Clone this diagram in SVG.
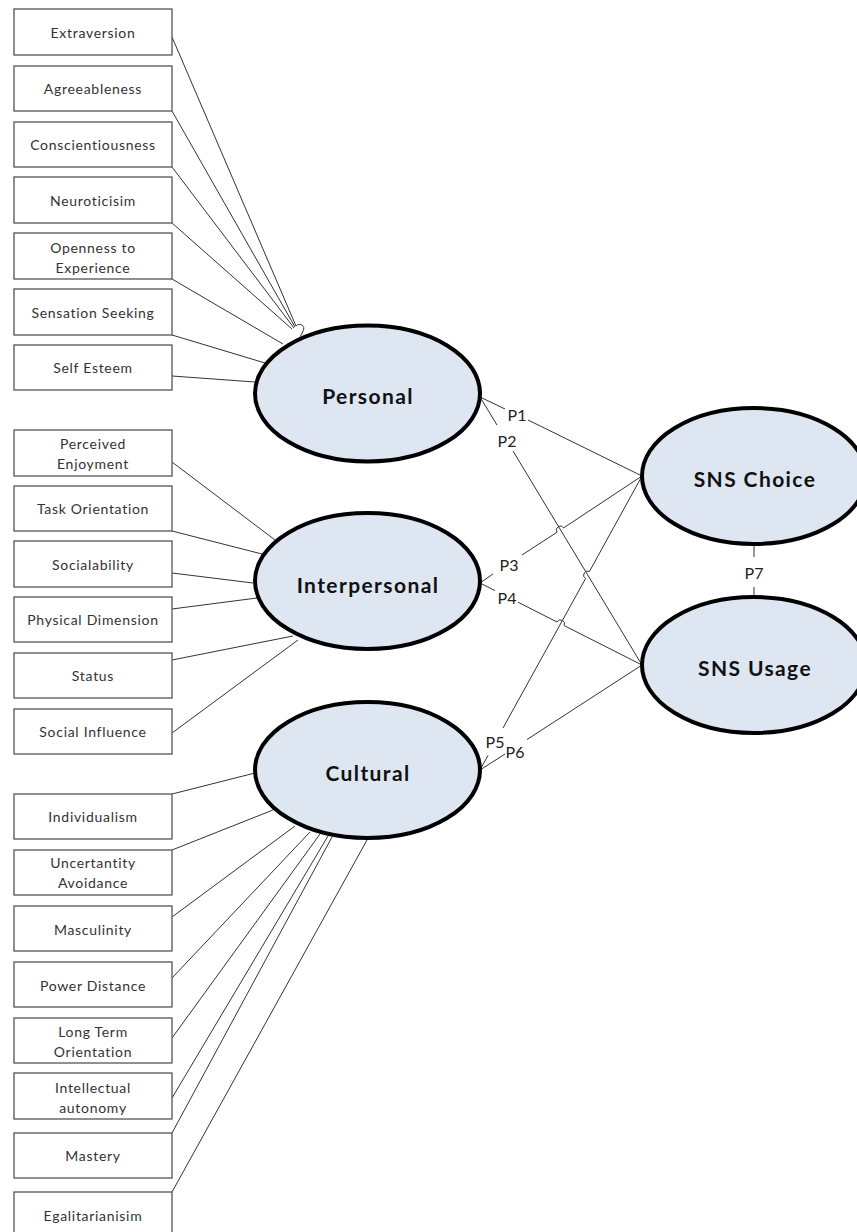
<svg xmlns="http://www.w3.org/2000/svg" width="857" height="1232" viewBox="0 0 857 1232">
<style>
.box{fill:#fff;stroke:#555;stroke-width:1.3}
.bt{font-family:Lato,"Liberation Sans",sans-serif;font-size:14px;letter-spacing:0.7px;fill:#333;text-anchor:middle;dominant-baseline:central}
.ell{fill:#dee6f2;stroke:#000;stroke-width:4}
.et{font-family:Lato,"Liberation Sans",sans-serif;font-size:21px;font-weight:bold;letter-spacing:1.4px;fill:#111;text-anchor:middle;dominant-baseline:central}
.ln{stroke:#333;stroke-width:1;fill:none}
.pl{font-family:Lato,"Liberation Sans",sans-serif;font-size:16px;fill:#222;text-anchor:middle;dominant-baseline:central}
</style>
<rect width="857" height="1232" fill="#fff"/>
<g id="connectors" class="ln">
<line x1="172" y1="37" x2="296" y2="326"/>
<line x1="172" y1="111" x2="295" y2="327"/>
<line x1="172" y1="167" x2="294" y2="328"/>
<line x1="172" y1="223" x2="292" y2="329"/>
<path d="M296 326 C300 322 306 326 303 331 C302 334 300 336 300 338"/>
<line x1="172" y1="279" x2="283" y2="344"/>
<line x1="172" y1="335" x2="265" y2="363"/>
<line x1="172" y1="376" x2="255" y2="382"/>
<line x1="172" y1="462" x2="275" y2="540"/>
<line x1="172" y1="531" x2="262" y2="554"/>
<line x1="172" y1="573" x2="253" y2="583"/>
<line x1="172" y1="609" x2="257" y2="598"/>
<line x1="172" y1="660" x2="293" y2="636"/>
<line x1="172" y1="733" x2="298" y2="640"/>
<line x1="172" y1="794" x2="255" y2="773"/>
<line x1="172" y1="850" x2="273" y2="810"/>
<line x1="172" y1="917" x2="295" y2="826"/>
<line x1="172" y1="978" x2="310" y2="832"/>
<line x1="172" y1="1038" x2="320" y2="834"/>
<line x1="172" y1="1098" x2="328" y2="836"/>
<line x1="172" y1="1133" x2="332" y2="837"/>
<line x1="172" y1="1192" x2="367" y2="840"/>
<path d="M480 397 L505 409 M528 420 L642 476"/>
<path d="M480 397 L497 425 M513 451 L642 665"/>
<path d="M480 583 L493 574 M522 555 L557.06 532.2 A4 4 0 0 1 563.74 527.8 L642 476"/>
<path d="M480 583 L495 590.6 M518 602.2 L557.03 622 A4 4 0 0 1 564.17 625.6 L642 665"/>
<path d="M480 770 L488 755.5 M503 728 L585.57 578.5 A4 4 0 0 1 589.43 571.5 L642 476"/>
<path d="M480 770 L505 754 M527 739.5 L642 665"/>
<path d="M754 544 L754 557 M754 587 L754 597"/>
</g>
<g id="plabels">
<text class="pl" x="517" y="414">P1</text>
<text class="pl" x="507" y="440">P2</text>
<text class="pl" x="509" y="564">P3</text>
<text class="pl" x="507" y="597">P4</text>
<text class="pl" x="495" y="741">P5</text>
<text class="pl" x="515" y="751">P6</text>
<text class="pl" x="754" y="572">P7</text>
</g>
<g id="extraversion"><rect class="box" x="14" y="9" width="158" height="46"/><text class="bt" x="93" y="32">Extraversion</text></g>
<g id="agreeableness"><rect class="box" x="14" y="66" width="158" height="45"/><text class="bt" x="93" y="88.5">Agreeableness</text></g>
<g id="conscientiousness"><rect class="box" x="14" y="122" width="158" height="45"/><text class="bt" x="93" y="144.5">Conscientiousness</text></g>
<g id="neuroticisim"><rect class="box" x="14" y="177" width="158" height="46"/><text class="bt" x="93" y="200">Neuroticisim</text></g>
<g id="openness"><rect class="box" x="14" y="233" width="158" height="46"/><text class="bt" x="93" y="247">Openness to</text><text class="bt" x="93" y="267">Experience</text></g>
<g id="sensation"><rect class="box" x="14" y="289" width="158" height="46"/><text class="bt" x="93" y="312">Sensation Seeking</text></g>
<g id="selfesteem"><rect class="box" x="14" y="345" width="158" height="45"/><text class="bt" x="93" y="367.5">Self Esteem</text></g>
<g id="perceived"><rect class="box" x="14" y="430" width="158" height="46"/><text class="bt" x="93" y="443">Perceived</text><text class="bt" x="93" y="463">Enjoyment</text></g>
<g id="task"><rect class="box" x="14" y="486" width="158" height="45"/><text class="bt" x="93" y="508.5">Task Orientation</text></g>
<g id="socialability"><rect class="box" x="14" y="541" width="158" height="46"/><text class="bt" x="93" y="564">Socialability</text></g>
<g id="physical"><rect class="box" x="14" y="597" width="158" height="45"/><text class="bt" x="93" y="619.5">Physical Dimension</text></g>
<g id="status"><rect class="box" x="14" y="653" width="158" height="45"/><text class="bt" x="93" y="675.5">Status</text></g>
<g id="socialinfluence"><rect class="box" x="14" y="709" width="158" height="45"/><text class="bt" x="93" y="731.5">Social Influence</text></g>
<g id="individualism"><rect class="box" x="14" y="794" width="158" height="45"/><text class="bt" x="93" y="816">Individualism</text></g>
<g id="uncertainty"><rect class="box" x="14" y="850" width="158" height="45"/><text class="bt" x="93" y="862">Uncertantity</text><text class="bt" x="93" y="882">Avoidance</text></g>
<g id="masculinity"><rect class="box" x="14" y="906" width="158" height="45"/><text class="bt" x="93" y="929">Masculinity</text></g>
<g id="powerdistance"><rect class="box" x="14" y="962" width="158" height="45"/><text class="bt" x="93" y="985">Power Distance</text></g>
<g id="longterm"><rect class="box" x="14" y="1018" width="158" height="45"/><text class="bt" x="93" y="1031">Long Term</text><text class="bt" x="93" y="1051">Orientation</text></g>
<g id="intellectual"><rect class="box" x="14" y="1073" width="158" height="46"/><text class="bt" x="93" y="1087">Intellectual</text><text class="bt" x="93" y="1107">autonomy</text></g>
<g id="mastery"><rect class="box" x="14" y="1133" width="158" height="45"/><text class="bt" x="93" y="1155.5">Mastery</text></g>
<g id="egalitarianisim"><rect class="box" x="14" y="1192" width="158" height="46"/><text class="bt" x="93" y="1215">Egalitarianisim</text></g>
<g id="personal"><ellipse class="ell" cx="367.5" cy="393.5" rx="112.5" ry="68"/><text class="et" x="368" y="395">Personal</text></g>
<g id="interpersonal"><ellipse class="ell" cx="367.5" cy="581" rx="112.5" ry="68"/><text class="et" x="368" y="584">Interpersonal</text></g>
<g id="cultural"><ellipse class="ell" cx="367.5" cy="770" rx="112.5" ry="68"/><text class="et" x="368" y="772">Cultural</text></g>
<g id="snschoice"><ellipse class="ell" cx="754" cy="476" rx="112" ry="68"/><text class="et" x="755" y="478">SNS Choice</text></g>
<g id="snsusage"><ellipse class="ell" cx="754" cy="665" rx="112" ry="68"/><text class="et" x="755" y="667">SNS Usage</text></g>
</svg>
